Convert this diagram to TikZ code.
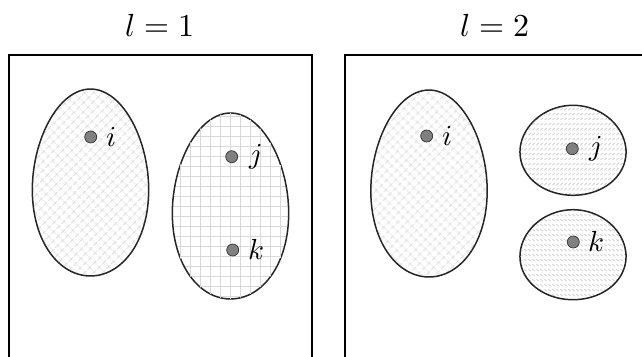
\documentclass[tikz,border=0pt]{standalone}
\usepackage{unicode-math}
\setmathfont{Latin Modern Math}
\usetikzlibrary{positioning,patterns,patterns.meta}
% short dashes in rows, for the split clusters
\pgfdeclarepattern{name=dashne, type=uncolored,
  bottom left={\pgfpointorigin}, top right={\pgfpoint{3.8pt}{5pt}},
  tile size={\pgfpoint{3.8pt}{5pt}},
  code={\pgfsetlinewidth{0.9pt}\pgfpathmoveto{\pgfpoint{0.4pt}{1pt}}\pgfpathlineto{\pgfpoint{2.8pt}{3.4pt}}\pgfusepath{stroke}}}
\pgfdeclarepattern{name=dashnw, type=uncolored,
  bottom left={\pgfpointorigin}, top right={\pgfpoint{3.8pt}{5pt}},
  tile size={\pgfpoint{3.8pt}{5pt}},
  code={\pgfsetlinewidth{0.9pt}\pgfpathmoveto{\pgfpoint{0.4pt}{3.4pt}}\pgfpathlineto{\pgfpoint{2.8pt}{1pt}}\pgfusepath{stroke}}}
\newcommand{\eggpath}[5]{plot[domain=0:360,samples=90,smooth cycle] ({#1+#3*cos(\x)*(1+#5*sin(\x))},{#2+#4*sin(\x)})}
\begin{document}
\begin{tikzpicture}[x=1pt, y=-1pt,
    dot/.style={circle, draw=black!80, fill=black!50, line width=0.7pt, minimum size=12pt, inner sep=0pt},
    lab/.style={inner sep=0pt, font=\fontsize{29}{29}\selectfont},
    ttl/.style={inner sep=0pt, font=\fontsize{32}{32}\selectfont},
    egg/.style={draw=black!85, line width=1.5pt},
    frame/.style={draw=black, line width=1.5pt}]
    \useasboundingbox (0,0) rectangle (642,356);
    % l = 1
    \node[ttl] (t1) at (160,26) {$l=1$};
    \draw[frame] (9,357) -- (9,55) -- (312,55) -- (312,357);
    \draw[egg, pattern={Hatch[angle=45,distance=6.4pt,line width=0.7pt]}, pattern color=black!15] \eggpath{90.5}{182.5}{58}{93.5}{0.08};
    \draw[egg, pattern={Lines[angle=0,distance=10pt,line width=0.7pt]}, pattern color=black!15] \eggpath{230.5}{206}{58}{93}{0.08};
    \draw[pattern={Lines[angle=90,distance=10pt,line width=0.7pt]}, pattern color=black!15, draw=none] \eggpath{230.5}{206}{58}{93}{0.08};
    \node[dot] (i1) at (90.7,137) {};
    \node[dot] (j1) at (231.7,156.7) {};
    \node[dot] (k1) at (232.7,250) {};
    \node[lab, right=9pt of i1] (li1) {$i$};
    \node[lab, right=11pt of j1] (lj1) {$j$};
    \node[lab, right=9pt of k1] (lk1) {$k$};
    % l = 2
    \node[ttl] (t2) at (495,26) {$l=2$};
    \draw[frame] (345,357) -- (345,55) -- (643,55);
    \draw[egg, pattern={Hatch[angle=45,distance=6.4pt,line width=0.7pt]}, pattern color=black!15] \eggpath{429}{183.5}{58}{93.5}{0.08};
    \draw[egg, pattern=dashne, pattern color=black!18] \eggpath{573}{150.3}{53}{45}{0.04};
    \draw[egg, pattern=dashnw, pattern color=black!18] \eggpath{573}{254.7}{53}{45}{0.04};
    \node[dot] (i2) at (426.7,136) {};
    \node[dot] (j2) at (572.3,148.7) {};
    \node[dot] (k2) at (573.3,242) {};
    \node[lab, right=9pt of i2] (li2) {$i$};
    \node[lab, right=11pt of j2] (lj2) {$j$};
    \node[lab, right=9pt of k2] (lk2) {$k$};
\end{tikzpicture}
\end{document}
